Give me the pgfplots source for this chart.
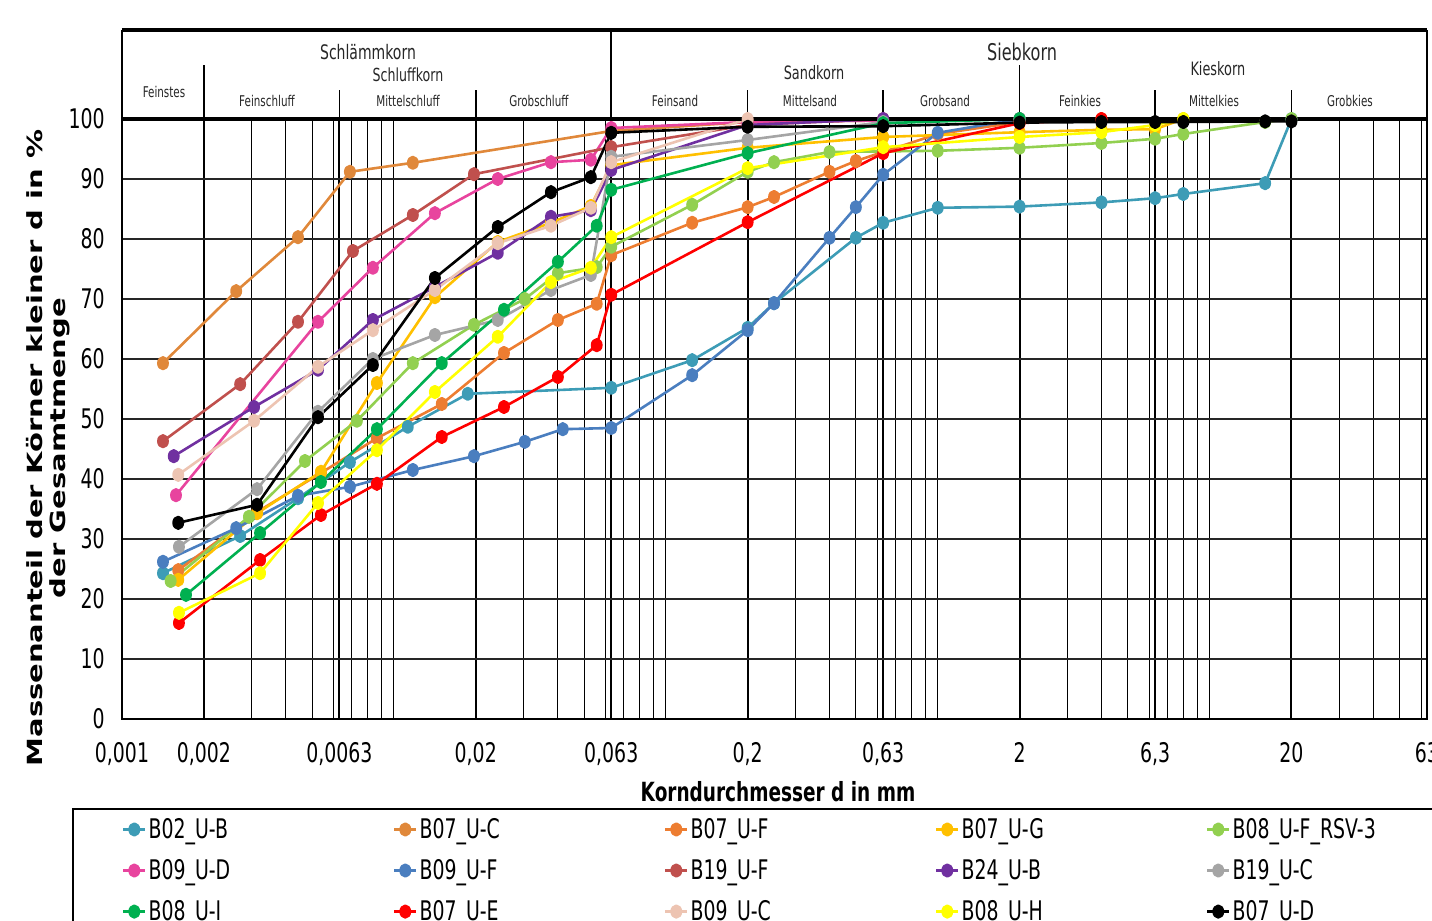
\documentclass[border=0pt]{standalone}
\usepackage{fontspec}
\setmainfont{DejaVu Sans}[FakeStretch=0.7]
\newfontfamily\ylabfont{DejaVu Sans}
\usepackage{pgfplots}
\pgfplotsset{compat=1.18}
\definecolor{cTeal}{HTML}{3D9CB6}
\definecolor{cOrgC}{HTML}{E0883A}
\definecolor{cOrgF}{HTML}{ED7D31}
\definecolor{cGold}{HTML}{FFC000}
\definecolor{cLGreen}{HTML}{92D050}
\definecolor{cPink}{HTML}{E8449E}
\definecolor{cBlue}{HTML}{4A7EBF}
\definecolor{cBrown}{HTML}{C0504D}
\definecolor{cPurple}{HTML}{7030A0}
\definecolor{cGray}{HTML}{A5A5A5}
\definecolor{cGreen}{HTML}{00B050}
\definecolor{cRed}{HTML}{FF0000}
\definecolor{cPeach}{HTML}{EDC4B2}
\definecolor{cYellow}{HTML}{FFFF00}
\begin{document}
\begin{tikzpicture}
\begin{axis}[
  xmode=log,
  width=652.5pt, height=300pt, scale only axis,
  xmin=0.001, xmax=63, ymin=0, ymax=100,
  clip=false,
  xtick={0.001,0.002,0.0063,0.02,0.063,0.2,0.63,2,6.3,20,63},
  xticklabels={{0,001},{0,002},{0,0063},{0,02},{0,063},{0,2},{0,63},{2},{6,3},{20},{63}},
  minor xtick={0.003,0.004,0.005,0.006,0.007,0.008,0.009,0.01,0.03,0.04,0.05,0.06,0.07,0.08,0.09,0.1,0.3,0.4,0.5,0.6,0.7,0.8,0.9,1,3,4,5,6,7,8,9,10,30,40,50,60},
  ytick={0,10,20,30,40,50,60,70,80,90,100},
  yticklabels={0,10,20,30,40,50,60,70,80,90,100},
  xmajorgrids, xminorgrids, ymajorgrids,
  major x grid style={black, line width=1pt},
  minor x grid style={black, line width=0.45pt},
  major y grid style={black!85, line width=0.9pt},
  major tick length=0pt, minor tick length=0pt,
  axis line style={black, line width=1pt},
  tick label style={font=\fontsize{13.5}{16}\selectfont},
  xticklabel style={anchor=north, inner sep=0pt, yshift=-11.5pt},
  yticklabel style={anchor=east, inner sep=0pt, xshift=-8.5pt},
  every axis plot/.append style={line width=1.3pt, line join=round, mark=*, mark size=2.9pt, mark options={solid, xscale=0.8}},
  legend columns=5,
  legend cell align=left,
  legend style={at={(-0.0383,-0.1483)}, anchor=north west, draw=black, line width=1pt,
    inner xsep=24.5pt, inner ysep=3.5pt, row sep=7pt,
    font=\fontsize{13.5}{16}\selectfont, nodes={inner sep=1pt}},
  legend image code/.code={\draw[mark repeat=2,mark phase=2] plot coordinates {(0pt,0pt) (5.5pt,0pt) (11pt,0pt)};},
]
\addplot[color=cTeal] coordinates {(0.001415,24.3) (0.00272,30.5) (0.00444,36.8) (0.00689,42.8) (0.01125,48.7) (0.0187,54.2) (0.063,55.2) (0.125,59.8) (0.2,65.2) (0.25,69.3) (0.5,80.2) (0.63,82.7) (1,85.2) (2,85.4) (4,86.1) (6.3,86.8) (8,87.5) (16,89.3) (20,100)};
\addlegendentry{\makebox[121.2pt][l]{B02\_U-B}}
\addplot[color=cOrgC] coordinates {(0.001415,59.3) (0.00263,71.3) (0.00444,80.3) (0.00689,91.2) (0.01174,92.7) (0.063,98) (0.2,99.5) (2,100)};
\addlegendentry{\makebox[121.2pt][l]{B07\_U-C}}
\addplot[color=cOrgF] coordinates {(0.00161,24.8) (0.00314,34.5) (0.00539,41) (0.00866,46.8) (0.0150,52.5) (0.0254,61) (0.0401,66.5) (0.0557,69.2) (0.063,77.3) (0.125,82.7) (0.2,85.3) (0.25,87) (0.4,91.2) (0.5,93) (1,97.5) (2,99.5) (4,100)};
\addlegendentry{\makebox[121.2pt][l]{B07\_U-F}}
\addplot[color=cGold] coordinates {(0.00161,23.2) (0.00314,34.3) (0.00539,41.2) (0.00866,56) (0.01415,70.3) (0.0241,79.5) (0.0378,82.7) (0.053,85.5) (0.063,92.3) (0.2,95.2) (0.63,97) (2,97.8) (4,98.2) (6.3,98.3) (8,100)};
\addlegendentry{\makebox[121.2pt][l]{B07\_U-G}}
\addplot[color=cLGreen] coordinates {(0.00151,23) (0.00293,33.7) (0.00471,43) (0.00731,49.7) (0.01174,59.3) (0.0197,65.7) (0.0303,70) (0.0401,74.3) (0.0557,75.3) (0.063,78.7) (0.125,85.7) (0.2,91.2) (0.25,92.8) (0.4,94.5) (1,94.7) (2,95.2) (4,96) (6.3,96.7) (8,97.5) (16,99.5) (20,100)};
\addlegendentry{\makebox[121.2pt][l]{B08\_U-F\_RSV-3}}
\addplot[color=cPink] coordinates {(0.00158,37.3) (0.00526,66.2) (0.00837,75.2) (0.01415,84.3) (0.0241,90) (0.0378,92.8) (0.053,93.2) (0.063,98.5) (0.2,99.5) (2,100)};
\addlegendentry{\makebox[121.2pt][l]{B09\_U-D}}
\addplot[color=cBlue] coordinates {(0.001415,26.2) (0.00263,31.8) (0.00444,37.2) (0.00689,38.7) (0.01174,41.5) (0.0197,43.8) (0.0303,46.2) (0.0418,48.3) (0.063,48.5) (0.125,57.3) (0.2,64.8) (0.25,69.3) (0.4,80.2) (0.5,85.3) (0.63,90.7) (1,97.7) (2,100)};
\addlegendentry{\makebox[121.2pt][l]{B09\_U-F}}
\addplot[color=cBrown] coordinates {(0.001415,46.3) (0.00272,55.8) (0.00444,66.2) (0.00707,78) (0.01174,84) (0.0197,90.8) (0.063,95.3) (0.2,99) (0.63,100)};
\addlegendentry{\makebox[121.2pt][l]{B19\_U-F}}
\addplot[color=cPurple] coordinates {(0.00155,43.8) (0.00306,52) (0.00526,58.2) (0.00837,66.5) (0.01415,72) (0.0241,77.7) (0.0378,83.7) (0.053,84.8) (0.063,91.5) (0.2,99) (0.63,100)};
\addlegendentry{\makebox[121.2pt][l]{B24\_U-B}}
\addplot[color=cGray] coordinates {(0.00162,28.7) (0.00314,38.3) (0.00526,51.2) (0.00837,60) (0.01415,64) (0.0241,66.5) (0.0378,71.5) (0.053,74) (0.063,93.7) (0.2,96.5) (0.63,99.5) (2,100)};
\addlegendentry{\makebox[121.2pt][l]{B19\_U-C}}
\addplot[color=cGreen] coordinates {(0.00172,20.7) (0.00322,31) (0.00539,39.5) (0.00866,48.3) (0.0150,59.3) (0.0254,68.2) (0.0401,76.2) (0.0557,82.2) (0.063,88.2) (0.2,94.3) (0.63,99.3) (2,100)};
\addlegendentry{\makebox[121.2pt][l]{B08\_U-I}}
\addplot[color=cRed] coordinates {(0.00162,16) (0.00322,26.5) (0.00539,34) (0.00866,39.2) (0.0150,47) (0.0254,52) (0.0401,57) (0.0557,62.3) (0.063,70.7) (0.2,82.8) (0.63,94.3) (2,99.3) (4,100)};
\addlegendentry{\makebox[121.2pt][l]{B07\_U-E}}
\addplot[color=cPeach] coordinates {(0.00161,40.7) (0.00306,49.7) (0.00526,58.7) (0.00837,64.8) (0.01415,71.5) (0.0241,79.3) (0.0378,82.2) (0.053,85.2) (0.063,92.8) (0.2,100)};
\addlegendentry{\makebox[121.2pt][l]{B09\_U-C}}
\addplot[color=cYellow] coordinates {(0.00162,17.7) (0.00322,24.3) (0.00526,36) (0.00866,44.8) (0.01415,54.5) (0.0241,63.7) (0.0378,72.8) (0.053,75.2) (0.063,80.3) (0.2,91.8) (0.63,95.3) (2,97) (4,97.8) (6.3,99) (8,100)};
\addlegendentry{\makebox[121.2pt][l]{B08\_U-H}}
\addplot[color=black] coordinates {(0.00161,32.7) (0.00314,35.7) (0.00526,50.3) (0.00837,59) (0.01415,73.5) (0.0241,82) (0.0378,87.8) (0.053,90.3) (0.063,97.7) (0.2,98.7) (0.63,98.8) (2,99.4) (4,99.5) (6.3,99.5) (8,99.5) (16,99.6) (20,99.6)};
\addlegendentry{\makebox[121.2pt][l]{B07\_U-D}}
% header box
\draw[line width=2pt] (axis cs:0.001,100) -- (axis cs:63,100);
\draw[line width=1pt] (axis cs:0.001,100) -- (axis cs:0.001,114.83);
\draw[line width=1pt] (axis cs:63,100) -- (axis cs:63,114.83);
\draw[line width=1.6pt] (axis cs:0.001,114.83) -- (axis cs:63,114.83);
\draw[line width=1pt] (axis cs:0.063,100) -- (axis cs:0.063,114.83);
\draw[line width=0.9pt] (axis cs:0.002,100) -- (axis cs:0.002,109);
\draw[line width=0.9pt] (axis cs:2,100) -- (axis cs:2,109);
\draw[line width=0.8pt] (axis cs:0.0063,100) -- (axis cs:0.0063,104.83);
\draw[line width=0.8pt] (axis cs:0.02,100) -- (axis cs:0.02,104.83);
\draw[line width=0.8pt] (axis cs:0.2,100) -- (axis cs:0.2,104.83);
\draw[line width=0.8pt] (axis cs:0.63,100) -- (axis cs:0.63,104.83);
\draw[line width=0.8pt] (axis cs:6.3,100) -- (axis cs:6.3,104.83);
\draw[line width=0.8pt] (axis cs:20,100) -- (axis cs:20,104.83);
\node[font=\fontsize{7.4}{9}\selectfont, text=black!85] at (rel axis cs:0.0322,1.045) {Feinstes};
\node[font=\fontsize{7.4}{9}\selectfont, text=black!85] at (rel axis cs:0.1111,1.03) {Feinschluff};
\node[font=\fontsize{7.4}{9}\selectfont, text=black!85] at (rel axis cs:0.2192,1.03) {Mittelschluff};
\node[font=\fontsize{7.4}{9}\selectfont, text=black!85] at (rel axis cs:0.3195,1.03) {Grobschluff};
\node[font=\fontsize{7.4}{9}\selectfont, text=black!85] at (rel axis cs:0.4238,1.03) {Feinsand};
\node[font=\fontsize{7.4}{9}\selectfont, text=black!85] at (rel axis cs:0.5272,1.03) {Mittelsand};
\node[font=\fontsize{7.4}{9}\selectfont, text=black!85] at (rel axis cs:0.6307,1.03) {Grobsand};
\node[font=\fontsize{7.4}{9}\selectfont, text=black!85] at (rel axis cs:0.7341,1.03) {Feinkies};
\node[font=\fontsize{7.4}{9}\selectfont, text=black!85] at (rel axis cs:0.8368,1.03) {Mittelkies};
\node[font=\fontsize{7.4}{9}\selectfont, text=black!85] at (rel axis cs:0.9410,1.03) {Grobkies};
\node[font=\fontsize{10}{12}\selectfont, text=black!85] at (rel axis cs:0.1885,1.1117) {Schlämmkorn};
\node[font=\fontsize{9}{11}\selectfont, text=black!85] at (rel axis cs:0.2192,1.0733) {Schluffkorn};
\node[font=\fontsize{9.2}{11}\selectfont, text=black!85] at (rel axis cs:0.5303,1.0767) {Sandkorn};
\node[font=\fontsize{9.2}{11}\selectfont, text=black!85] at (rel axis cs:0.8398,1.0833) {Kieskorn};
\node[font=\fontsize{11.5}{13}\selectfont, text=black!85] at (rel axis cs:0.6897,1.1117) {Siebkorn};
\node[font=\bfseries\fontsize{13.2}{15}\selectfont] at (rel axis cs:0.5027,0) [yshift=-36.5pt] {Korndurchmesser d in mm};
\end{axis}
\begin{scope}[shift={(-36.75pt,135.5pt)}, xscale=0.72]
\node[rotate=90, transform shape, align=center, font=\ylabfont\bfseries\fontsize{14.5}{16.2}\selectfont] at (0,0) {Massenanteil der Körner kleiner d in \%\\der Gesamtmenge};
\end{scope}
\pgfresetboundingbox
\useasboundingbox (-61pt,-101pt) rectangle (655pt,359.5pt);
\end{tikzpicture}
\end{document}
